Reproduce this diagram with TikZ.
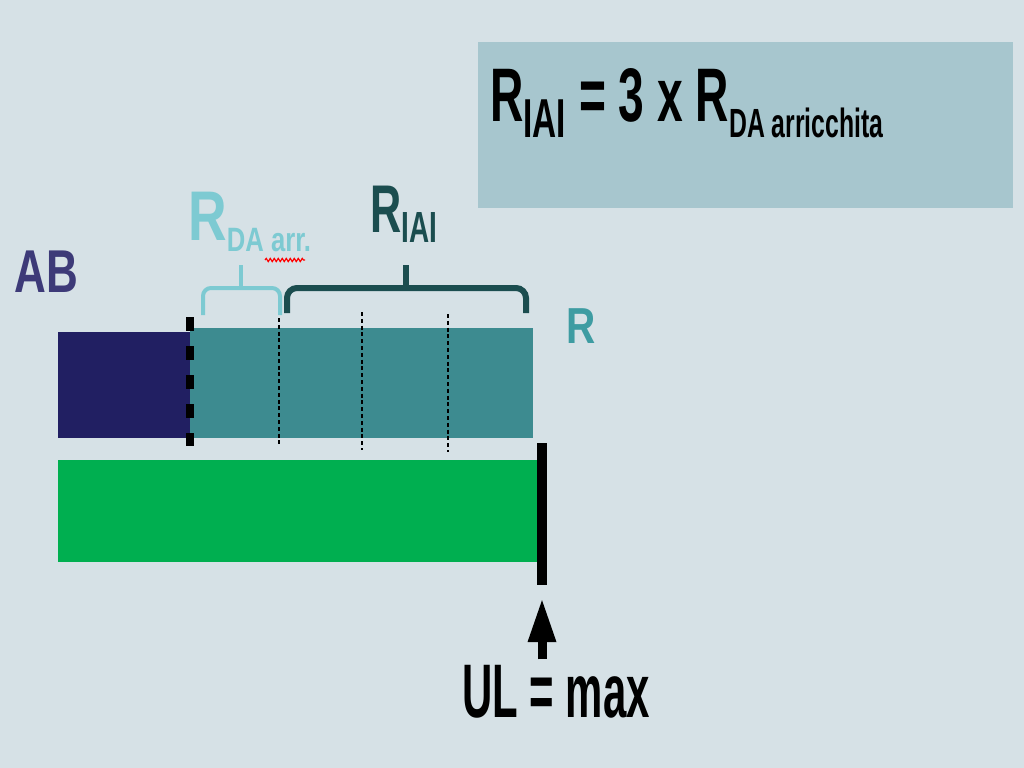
\documentclass[tikz,border=0pt]{standalone}
\usepackage{fontspec}
\setmainfont{Liberation Sans}[FakeStretch=0.8]
\usetikzlibrary{arrows.meta,positioning,decorations.pathmorphing}
\definecolor{bgcol}{HTML}{D6E1E6}
\definecolor{boxcol}{HTML}{A7C6CE}
\definecolor{abnavy}{HTML}{211F62}
\definecolor{rteal}{HTML}{3D8B90}
\definecolor{ulgreen}{HTML}{00AF50}
\definecolor{arrcyan}{HTML}{7DCAD2}
\definecolor{iaidark}{HTML}{1B4D4F}
\definecolor{abtext}{HTML}{3D3A78}
\definecolor{rtext}{HTML}{3E9CA2}
\newcommand{\fsz}[1]{\fontsize{#1}{#1}\selectfont}
\newcommand{\lowsub}[3]{\raisebox{-#1}{\fsz{#2}#3}}
\newcommand{\narrow}[2]{\scalebox{#1}[1]{#2}}

\begin{document}
\begin{tikzpicture}[x=0.025cm, y=-0.025cm,
    bar/.style={inner sep=0, outer sep=0, anchor=north west},
    lbl/.style={inner sep=0, anchor=base west, font=\bfseries}]
    \fill[bgcol] (0,0) rectangle (1024,768);
    \useasboundingbox (0,0) rectangle (1024,768);

    % formula box
    \node[bar, fill=boxcol, minimum width=13.375cm, minimum height=4.15cm] (box) at (478,42) {};
    \node[lbl] (formula) at (490,122) {\narrow{0.76}{\fsz{54}R\lowsub{10.7pt}{39}{IAI} = 3 x R\lowsub{10.7pt}{29}{DA arricchita}}};

    % bars
    \node[bar, fill=abnavy, minimum width=3.3cm, minimum height=2.65cm] (ab bar) at (58,332) {};
    \node[bar, fill=rteal, minimum width=8.575cm, minimum height=2.75cm] (r bar) at (190,328) {};
    \node[bar, fill=ulgreen, minimum width=12cm, minimum height=2.55cm] (ul bar) at (58,460) {};
    \node[bar, fill=black, minimum width=0.25cm, minimum height=3.55cm] (limit) at (537,443) {};

    % divisions of R
    \draw[line width=2mm, dash pattern=on 3.5mm off 3.75mm] (190,317) -- (190,446);
    \foreach \x/\a/\b in {279/318/447, 362/312/450, 448/314/452}
        \draw[line width=0.55mm, dash pattern=on 1mm off 0.7mm] (\x,\a) -- (\x,\b);

    % braces
    \draw[arrcyan, line width=1mm, rounded corners=2mm] (203,315) |- (241,288) -| (280,315);
    \draw[arrcyan, line width=1mm] (241,289) -- (241,265);
    \draw[iaidark, line width=1.5mm, rounded corners=2.5mm] (287,313) |- (406,288) -| (526,313);
    \draw[iaidark, line width=1.5mm] (406,289) -- (406,265);

    % labels
    \node[lbl, text=arrcyan] (rda) at (188,240) {\narrow{0.95}{\fsz{50}R\lowsub{8.5pt}{24}{DA arr.}}};
    \draw[red, line width=0.3mm, decorate, decoration={snake, amplitude=0.4mm, segment length=1mm}] (265,260) -- (305,260);
    \node[lbl, text=iaidark] (riai) at (370,232) {\narrow{0.8}{\fsz{48}R\lowsub{7.8pt}{31}{IAI}}};
    \node[lbl, text=abtext] (ab) at (14,292) {\narrow{0.91}{\fsz{43}AB}};
    \node[lbl, text=rtext] (r) at (566,343) {\fsz{36}R};
    \node[lbl] (ul) at (462,717) {\narrow{0.69}{\fsz{54}UL = max}};

    \draw[line width=2.25mm, -{Triangle[width=6.5mm, length=11mm]}, shorten <=1.25mm, shorten >=3.25mm] (ul.north -| limit.south) -- (limit.south);
\end{tikzpicture}
\end{document}
